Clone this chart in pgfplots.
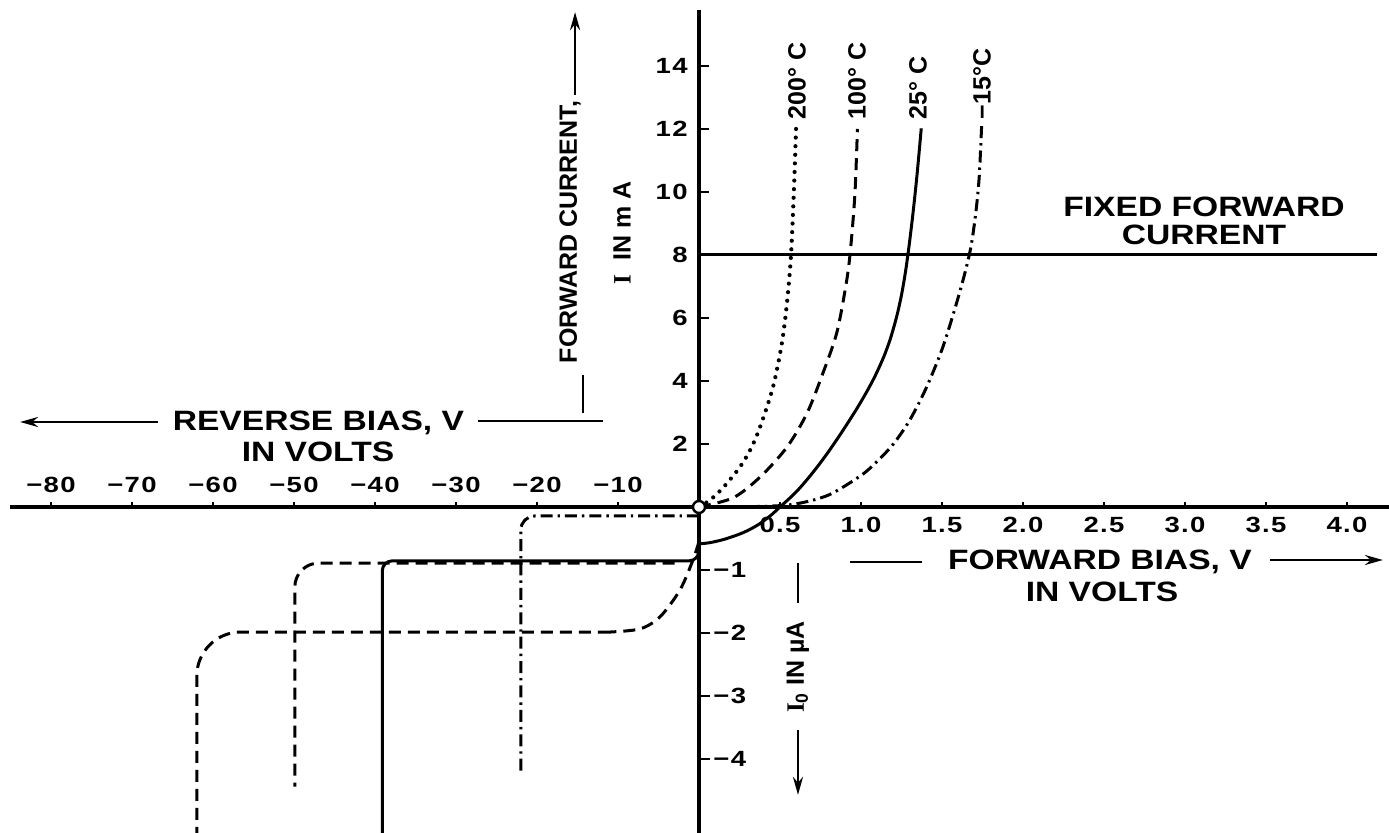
\documentclass[border=0pt]{standalone}
\usepackage{fontspec}
\setmainfont{Liberation Sans}
\newfontfamily\lab[FakeStretch=1.2]{Liberation Sans}
\newfontfamily\tk[FakeStretch=1.25,LetterSpace=6]{Liberation Sans}
\newfontfamily\ser{Liberation Serif}
\usepackage{pgfplots}
\pgfplotsset{compat=1.18}
\usetikzlibrary{arrows.meta}
\newcommand\tkf{\tk\bfseries\fontsize{11}{12}\selectfont}
\newcommand\labf{\lab\bfseries\fontsize{14}{16}\selectfont}
\newcommand\rotf{\bfseries\fontsize{12.5}{14}\selectfont}
\newcommand\curf{\bfseries\fontsize{12.5}{14}\selectfont}
\begin{document}
\begin{tikzpicture}
\begin{axis}[scale only axis, width=694.5pt, height=416.5pt,
  xmin=-4.3148, xmax=4.2593, ymin=-10.349, ymax=16.095,
  hide axis, clip=false,
  x filter/.expression={x<0 ? 0.05*x : x},
  y filter/.expression={y<0 ? 2*y : y}]

% axes
\draw[line width=1.6pt] (axis cs:-4.253,0) -- (axis cs:4.259,0);
\draw[line width=1.6pt] (axis cs:0,15.78) -- (axis cs:0,-10.349);
% ticks
\pgfplotsinvokeforeach{0.5,1,1.5,2,2.5,3,3.5,4}{
  \draw[line width=1.2pt] (axis cs:#1,0) -- ++(0pt,2.5pt);
  \draw[line width=1.2pt] (axis cs:-#1,0) -- ++(0pt,2.5pt);
}
\pgfplotsinvokeforeach{2,4,6,8,10,12,14}{
  \draw[line width=1.2pt] (axis cs:0,#1) -- ++(5pt,0pt);
}
\pgfplotsinvokeforeach{-2,-4,-6,-8}{
  \draw[line width=1.2pt] (axis cs:0,#1) -- ++(5.5pt,0pt);
}
% tick labels
\node[font=\tkf] at (axis cs:0.5,-0.571) {0.5};
\node[font=\tkf] at (axis cs:1.0,-0.571) {1.0};
\node[font=\tkf] at (axis cs:1.5,-0.571) {1.5};
\node[font=\tkf] at (axis cs:2.0,-0.571) {2.0};
\node[font=\tkf] at (axis cs:2.5,-0.571) {2.5};
\node[font=\tkf] at (axis cs:3.0,-0.571) {3.0};
\node[font=\tkf] at (axis cs:3.5,-0.571) {3.5};
\node[font=\tkf] at (axis cs:4.0,-0.571) {4.0};
\node[font=\tkf] at (axis cs:-0.5,0.70) {−10};
\node[font=\tkf] at (axis cs:-1.0,0.70) {−20};
\node[font=\tkf] at (axis cs:-1.5,0.70) {−30};
\node[font=\tkf] at (axis cs:-2.0,0.70) {−40};
\node[font=\tkf] at (axis cs:-2.5,0.70) {−50};
\node[font=\tkf] at (axis cs:-3.0,0.70) {−60};
\node[font=\tkf] at (axis cs:-3.5,0.70) {−70};
\node[font=\tkf] at (axis cs:-4.0,0.70) {−80};
\pgfplotsinvokeforeach{2,4,6,8,10,12,14}{
  \node[font=\tkf, anchor=east, inner sep=0pt, xshift=-5.5pt] at (axis cs:0,#1) {#1};
}
\node[font=\tkf, anchor=west, inner sep=0pt, xshift=7pt] at (axis cs:0,-2) {−1};
\node[font=\tkf, anchor=west, inner sep=0pt, xshift=7pt] at (axis cs:0,-4) {−2};
\node[font=\tkf, anchor=west, inner sep=0pt, xshift=7pt] at (axis cs:0,-6) {−3};
\node[font=\tkf, anchor=west, inner sep=0pt, xshift=7pt] at (axis cs:0,-8) {−4};

% fixed forward current
\addplot[line width=1.5pt] coordinates {(0,8) (4.185,8)};
\node[font=\labf] at (axis cs:3.117,9.52) {FIXED FORWARD};
\node[font=\labf] at (axis cs:3.117,8.63) {CURRENT};

% 200 C dotted
\addplot[line width=2.1pt, line cap=round, dash pattern=on 0pt off 4.3pt, smooth]
  coordinates {(0,0) (0.068,0.22) (0.15,0.62) (0.253,1.27) (0.32,1.85) (0.377,2.54) (0.457,3.81) (0.512,5.21)
  (0.545,6.57) (0.568,8.0) (0.586,10.06) (0.60,12.15)};
% 100 C dashed
\addplot[line width=1.5pt, dash pattern=on 6pt off 3.5pt, smooth]
  coordinates {(0,0) (0.21,0.29) (0.377,0.95) (0.543,1.90) (0.667,2.98) (0.765,4.25)
  (0.85,5.52) (0.905,6.98) (0.932,8.0) (0.962,9.9) (0.978,12.0)};
% 25 C solid forward
\addplot[line width=1.5pt, smooth]
  coordinates {(1.372,12.02) (1.36,11.33) (1.345,10.5) (1.33,9.75) (1.315,9.06) (1.295,8.22)
  (1.275,7.48) (1.25,6.73) (1.22,6.04) (1.18,5.32) (1.14,4.76) (1.09,4.19) (1.04,3.70)
  (0.98,3.17) (0.92,2.68) (0.86,2.21) (0.8,1.76) (0.74,1.34) (0.68,0.95) (0.62,0.59) (0.56,0.28)
  (0.5,0) (0.44,-0.14) (0.36,-0.29) (0.27,-0.41) (0.16,-0.51)
  (0.07,-0.565) (0.004,-0.585)};
% -15 C dash-dot forward
\addplot[line width=1.5pt, dash pattern=on 6pt off 2.5pt on 1.2pt off 2.5pt, smooth]
  coordinates {(0,0) (0.4,0.02) (0.6,0.1) (0.8,0.38) (1.0,1.0) (1.1,1.45) (1.2,2.0)
  (1.3,2.75) (1.4,3.75) (1.5,5.0) (1.58,6.3) (1.64,7.4) (1.68,8.3) (1.71,9.4)
  (1.73,10.5) (1.745,12.15)};

% reverse: dash-dot
\addplot[line width=1.5pt, dash pattern=on 6pt off 2.5pt on 1.2pt off 2.5pt, rounded corners=7pt]
  coordinates {(0,-0.143) (-22,-0.143) (-22,-4.25)};
% reverse: solid
\addplot[line width=1.5pt, rounded corners=5pt]
  coordinates {(0,-0.585) (0,-0.855) (-39.1,-0.855) (-39.1,-5.2)};
% reverse: dashed, -1 uA
\addplot[line width=1.5pt, dash pattern=on 6pt off 3.5pt, rounded corners=12pt]
  coordinates {(-3,-0.89) (-49.9,-0.89) (-49.9,-4.44)};
% reverse: dashed, -2 uA
\addplot[line width=1.5pt, dash pattern=on 6pt off 3.5pt, smooth]
  coordinates {(0,-0.55) (-0.74,-0.84) (-2.34,-1.315) (-4.82,-1.745) (-7.28,-1.935) (-11,-1.985)};
\addplot[line width=1.5pt, dash pattern=on 6pt off 3.5pt, rounded corners=22pt]
  coordinates {(-11,-1.985) (-62,-1.985) (-62,-5.2)};

% origin circle
\addplot[only marks, mark=*, mark size=3pt, mark options={fill=white, draw=black, line width=1.2pt}]
  coordinates {(0,0)};

% curve labels
\node[font=\curf, rotate=90, anchor=west, inner sep=0pt] at (axis cs:0.605,12.3) {200° C};
\node[font=\curf, rotate=90, anchor=west, inner sep=0pt] at (axis cs:0.975,12.3) {100° C};
\node[font=\curf, rotate=90, anchor=west, inner sep=0pt] at (axis cs:1.352,12.3) {25° C};
\node[font=\curf, rotate=90, anchor=west, inner sep=0pt] at (axis cs:1.747,12.3) {−15°C};

% axis titles
\node[font=\labf] at (axis cs:-2.349,2.667) {REVERSE BIAS, V};
\node[font=\labf] at (axis cs:-2.352,1.746) {IN VOLTS};
\draw[line width=1.4pt, -{Stealth[length=9pt,width=5pt]}] (axis cs:-3.340,2.698) -- (axis cs:-4.191,2.698);
\draw[line width=1.4pt] (axis cs:-1.364,2.73) -- (axis cs:-0.593,2.73);
\draw[line width=1.4pt] (axis cs:-0.716,4.19) -- (axis cs:-0.716,2.98);

\node[font=\rotf, rotate=90] at (axis cs:-0.796,8.73) {FORWARD CURRENT,};
\node[font=\rotf, rotate=90] at (axis cs:-0.475,8.70) {{\ser I}\ \ IN\ m\ A};
\draw[line width=1.4pt, -{Stealth[length=9pt,width=5pt]}] (axis cs:-0.765,13.08) -- (axis cs:-0.765,15.71);

\node[font=\rotf, rotate=90] at (axis cs:0.611,-5.08) {{\ser I}\textsubscript{0}\ IN\ µA};
\draw[line width=1.4pt] (axis cs:0.611,-1.78) -- (axis cs:0.611,-3.05);
\draw[line width=1.4pt, -{Stealth[length=9pt,width=5pt]}] (axis cs:0.611,-7.08) -- (axis cs:0.611,-9.14);

\node[font=\labf] at (axis cs:2.475,-1.746) {FORWARD BIAS, V};
\node[font=\labf] at (axis cs:2.488,-2.698) {IN VOLTS};
\draw[line width=1.4pt] (axis cs:0.932,-1.746) -- (axis cs:1.377,-1.746);
\draw[line width=1.4pt, -{Stealth[length=9pt,width=5pt]}] (axis cs:3.525,-1.683) -- (axis cs:4.222,-1.683);

\coordinate (BL) at (rel axis cs:0,0);
\coordinate (TR) at (rel axis cs:1,1);
\end{axis}
\pgfresetboundingbox
\path[use as bounding box] (BL) rectangle (TR);
\end{tikzpicture}
\end{document}
